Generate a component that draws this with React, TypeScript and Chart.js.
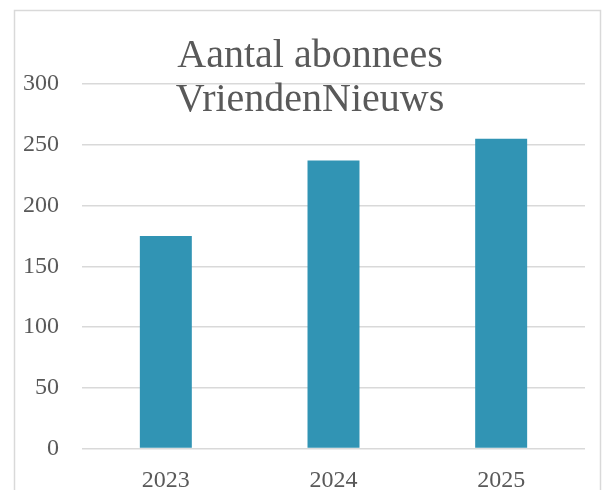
import React, { useEffect, useRef } from "react";
import { Chart, registerables } from "chart.js";

Chart.register(...registerables);

const categories = ["2023", "2024", "2025"];
const subscribers = [175, 237, 255];
const titleLines = ["Aantal abonnees", "VriendenNieuws"];
const yMin = 0;
const yMax = 300;
const yStep = 50;

const FONT = "'Liberation Serif', 'DejaVu Serif', serif";
const TEXT = "#595959";
const GRID = "#d9d9d9";
const BAR = "#3194b4";

const decorPlugin = {
  id: "decor",
  beforeDraw(chart: any) {
    const ctx = chart.ctx;
    ctx.save();
    ctx.fillStyle = "#ffffff";
    ctx.fillRect(0, 0, chart.width, chart.height);
    ctx.strokeStyle = GRID;
    ctx.lineWidth = 1.5;
    ctx.strokeRect(14.5, 10.5, 586, 500);
    ctx.restore();
  },
  afterDraw(chart: any) {
    const ctx = chart.ctx;
    ctx.save();
    ctx.fillStyle = TEXT;
    ctx.font = `40px ${FONT}`;
    ctx.textAlign = "center";
    ctx.textBaseline = "alphabetic";
    ctx.fillText(titleLines[0], 310, 67);
    ctx.fillText(titleLines[1], 310, 111);
    ctx.restore();
  },
};

export default function App() {
  const ref = useRef<HTMLCanvasElement | null>(null);
  useEffect(() => {
    if (!ref.current) return;
    const chart = new Chart(ref.current, {
      type: "bar",
      data: {
        labels: categories,
        datasets: [
          {
            data: subscribers,
            backgroundColor: BAR,
            borderWidth: 0,
            categoryPercentage: 1,
            barPercentage: 0.31,
          },
        ],
      },
      options: {
        animation: false,
        responsive: false,
        maintainAspectRatio: false,
        layout: { padding: { top: 84, right: 23, bottom: 0, left: 0 } },
        plugins: {
          legend: { display: false },
          title: { display: false },
          tooltip: { enabled: false },
        },
        scales: {
          x: {
            grid: { display: false, drawTicks: false },
            border: { display: false },
            ticks: {
              color: TEXT,
              font: { family: FONT, size: 24 },
              padding: 18,
            },
            afterFit(scale: any) {
              scale.height = 41.5;
            },
          },
          y: {
            min: yMin,
            max: yMax,
            grid: { color: GRID, lineWidth: 1.5, drawTicks: false },
            border: { display: false },
            ticks: {
              stepSize: yStep,
              color: TEXT,
              font: { family: FONT, size: 24 },
              padding: 23,
            },
            afterFit(scale: any) {
              scale.width = 82;
            },
          },
        },
      },
      plugins: [decorPlugin],
    });
    return () => chart.destroy();
  }, []);
  return (
    <div style={{ position: "absolute", left: 0, top: 0, width: 608, height: 490 }}>
      <canvas ref={ref} width={608} height={490} style={{ display: "block" }} />
    </div>
  );
}
